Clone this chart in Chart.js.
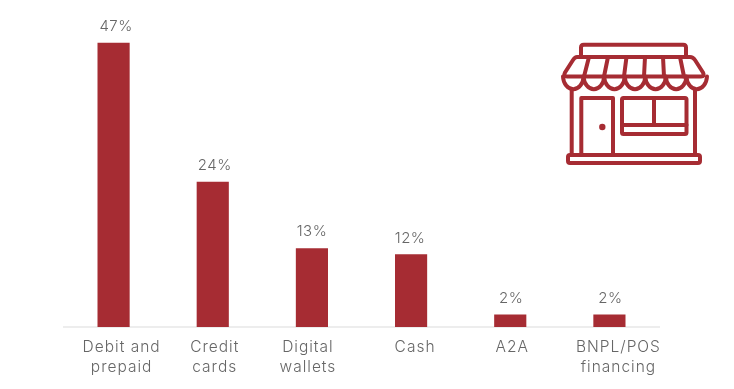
<!DOCTYPE html>
<html>
<head>
<meta charset="utf-8">
<script src="https://cdn.jsdelivr.net/npm/chart.js@4/dist/chart.umd.min.js"></script>
<style>
html,body{margin:0;padding:0;background:#fff;overflow:hidden}
#wrap{position:relative;width:734px;height:389px}
canvas{position:absolute;left:0;top:0}
svg{position:absolute;left:0;top:0}
</style>
</head>
<body>
<div id="wrap">
<canvas id="c" width="734" height="389"></canvas>
<svg width="734" height="389" viewBox="0 0 734 389" fill="none" stroke="#A62C33" stroke-width="4" stroke-linejoin="round" stroke-linecap="round">
  <path d="M581 56V47.500q0-2.800 2.800-2.800H683.200q2.800 0 2.800 2.800V56"/>
  <path d="M577 57H690Q693 57 695 60L703 72.500Q705 76.500 701 76.500H567Q563 76.500 565 72.500L573 60Q575 57 577 57Z"/>
  <path d="M589 57L584 76.500M608 57L604 76.500M626.500 57L624 76.500M645 57L644 76.500M663 57L664 76.500M680 57L684 76.500"/>
  <path d="M563 76.500a10.300 13.500 0 0 0 20.570 0a10.300 13.500 0 0 0 20.570 0a10.300 13.500 0 0 0 20.570 0a10.300 13.500 0 0 0 20.570 0a10.300 13.500 0 0 0 20.570 0a10.300 13.500 0 0 0 20.570 0a10.300 13.500 0 0 0 20.570 0"/>
  <path d="M571.700 90V155M695 90V155"/>
  <rect x="568" y="155" width="132" height="8" rx="2"/>
  <path d="M581.300 155V98H613V155"/>
  <circle cx="602.300" cy="127" r="3.200" fill="#A62C33" stroke="none"/>
  <rect x="622" y="98" width="64.500" height="36" rx="1.500"/>
  <path d="M622 125H686.500M654 98V125"/>
</svg>
</div>
<script>
const categories = [["Debit and","prepaid"],["Credit","cards"],["Digital","wallets"],["Cash"],["A2A"],["BNPL/POS","financing"]];
const shares = [47,24,13,12,2,2];
const labelNudges = [8,2,-4,4,2,9];
const valueNudges = [2.500,2,0,-1,1,1];
const barColor = "#A62C33";
const textColor = "#666666";
const fontFamily = "Inter, 'Open Sans', sans-serif";

const textLabels = {
  id:"textLabels",
  afterDatasetsDraw(chart){
    const {ctx,scales} = chart;
    const meta = chart.getDatasetMeta(0);
    ctx.save();
    ctx.fillStyle = textColor;
    ctx.textAlign = "center";
    ctx.textBaseline = "middle";
    ctx.font = "300 15px " + fontFamily;
    ctx.letterSpacing = "0.5px";
    meta.data.forEach((bar,i)=>{
      ctx.fillText(shares[i]+"%", bar.x+valueNudges[i], bar.y-16.5);
    });
    ctx.font = "300 15.5px " + fontFamily;
    ctx.letterSpacing = "1px";
    const base = scales.y.getPixelForValue(0);
    categories.forEach((lines,i)=>{
      const x = scales.x.getPixelForValue(i)+labelNudges[i];
      lines.forEach((line,j)=>ctx.fillText(line, x, base+20.5+j*20));
    });
    ctx.restore();
  }
};

new Chart(document.getElementById("c"),{
  type:"bar",
  data:{labels:categories,datasets:[{data:shares,backgroundColor:barColor,borderWidth:0,barThickness:31.5}]},
  options:{
    responsive:false,
    animation:false,
    layout:{padding:{left:64,right:75,top:25,bottom:0}},
    plugins:{legend:{display:false},tooltip:{enabled:false}},
    scales:{
      x:{
        grid:{display:false,drawTicks:false},
        border:{color:"#EDEDED",width:2},
        ticks:{display:false},
        afterFit(scale){scale.height=62;}
      },
      y:{display:false,min:0,max:50}
    }
  },
  plugins:[textLabels]
});
</script>
</body>
</html>
